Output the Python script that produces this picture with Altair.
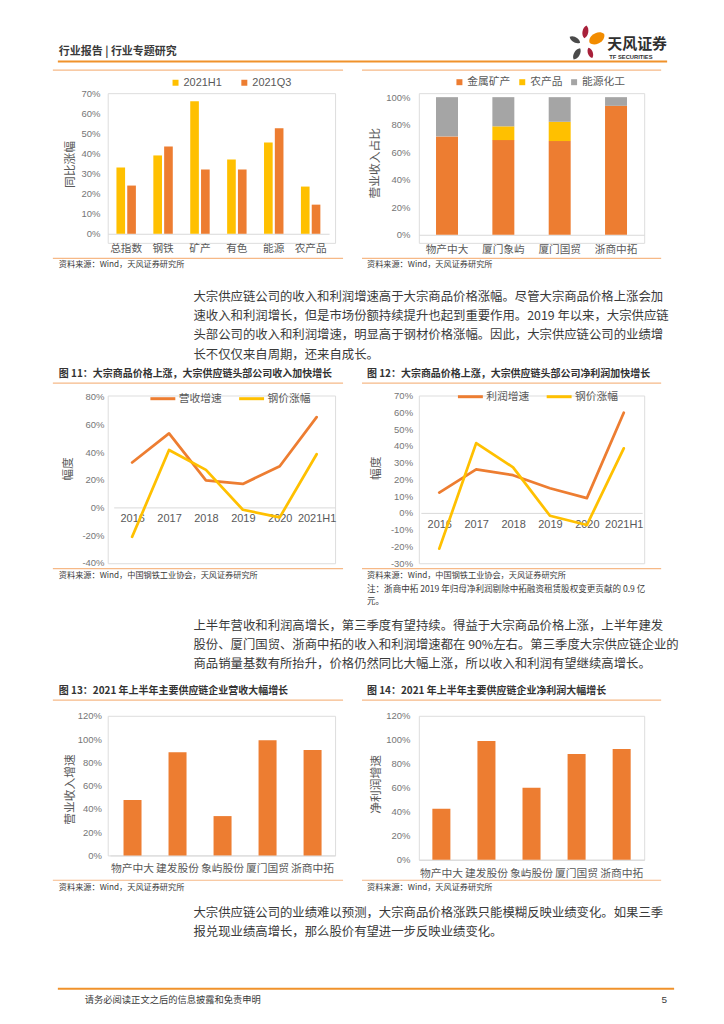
import altair as alt
import pandas as pd

CJK = "Noto Sans CJK SC"
LAT = "Liberation Sans"
ORANGE, YELLOW, GRAY = "#ED7D31", "#FFC000", "#A5A5A5"
TEXT = "#3A3A3A"
AXTXT = "#595959"
TICKTXT = "#767676"
FRAME = "#F6B987"
BRAND = "#F0922B"

# ---------------- data ----------------
idx_categories = ["总指数", "钢铁", "矿产", "有色", "能源", "农产品"]
idx_series = ["2021H1", "2021Q3"]
idx_h1 = [0.33, 0.39, 0.66, 0.37, 0.455, 0.235]
idx_q3 = [0.24, 0.435, 0.32, 0.32, 0.525, 0.145]
idx_ticks = [0.0, 0.1, 0.2, 0.3, 0.4, 0.5, 0.6, 0.7]

mix_companies = ["物产中大", "厦门象屿", "厦门国贸", "浙商中拓"]
mix_series = ["金属矿产", "农产品", "能源化工"]
mix_metal = [0.715, 0.688, 0.681, 0.937]
mix_agri = [0.0, 0.100, 0.140, 0.0]
mix_energy = [0.285, 0.212, 0.179, 0.063]
mix_ticks = [0.0, 0.2, 0.4, 0.6, 0.8, 1.0]

years = ["2016", "2017", "2018", "2019", "2020", "2021H1"]
rev_growth = [0.325, 0.536, 0.195, 0.170, 0.298, 0.654]
profit_growth = [0.121, 0.260, 0.225, 0.147, 0.088, 0.597]
steel_change = [-0.213, 0.416, 0.272, -0.017, -0.072, 0.385]
g11_series = ["营收增速", "钢价涨幅"]
g12_series = ["利润增速", "钢价涨幅"]
g11_ticks = [-0.4, -0.2, 0.0, 0.2, 0.4, 0.6, 0.8]
g12_ticks = [-0.3, -0.2, -0.1, 0.0, 0.1, 0.2, 0.3, 0.4, 0.5, 0.6, 0.7]

h1_companies = ["物产中大", "建发股份", "象屿股份", "厦门国贸", "浙商中拓"]
h1_revenue = [0.477, 0.886, 0.338, 0.989, 0.906]
h1_profit = [0.424, 0.989, 0.601, 0.881, 0.923]
h1_ticks = [0.0, 0.2, 0.4, 0.6, 0.8, 1.0, 1.2]

# ---------------- texts ----------------
header_title = "行业报告 | 行业专题研究"
logo_name = "天风证券"
logo_sub = "TF SECURITIES"
para1 = [
    "大宗供应链公司的收入和利润增速高于大宗商品价格涨幅。尽管大宗商品价格上涨会加",
    "速收入和利润增长，但是市场份额持续提升也起到重要作用。2019 年以来，大宗供应链",
    "头部公司的收入和利润增速，明显高于钢材价格涨幅。因此，大宗供应链公司的业绩增",
    "长不仅仅来自周期，还来自成长。",
]
para2 = [
    "上半年营收和利润高增长，第三季度有望持续。得益于大宗商品价格上涨，上半年建发",
    "股份、厦门国贸、浙商中拓的收入和利润增速都在 90%左右。第三季度大宗供应链企业的",
    "商品销量基数有所抬升，价格仍然同比大幅上涨，所以收入和利润有望继续高增长。",
]
para3 = [
    "大宗供应链公司的业绩难以预测，大宗商品价格涨跌只能模糊反映业绩变化。如果三季",
    "报兑现业绩高增长，那么股价有望进一步反映业绩变化。",
]
cap11 = "图 11：大宗商品价格上涨，大宗供应链头部公司收入加快增长"
cap12 = "图 12：大宗商品价格上涨，大宗供应链头部公司净利润加快增长"
cap13 = "图 13：2021 年上半年主要供应链企业营收大幅增长"
cap14 = "图 14：2021 年上半年主要供应链企业净利润大幅增长"
src_a = "资料来源：Wind，天风证券研究所"
src_b = "资料来源：Wind，中国钢铁工业协会，天风证券研究所"
note12 = ["注：浙商中拓 2019 年归母净利润剔除中拓融资租赁股权变更贡献的 0.9 亿", "元。"]
footer_text = "请务必阅读正文之后的信息披露和免责申明"
page_no = "5"

# ---------------- layout ----------------
OX, OY = 107, 92          # page position of first panel's plot origin
ROW_GAP, COL_GAP = 152.2, 84
W1, W2 = 228, 226
H_ROW1, H_ROW2 = 150.1, 168.2

PCT = "(datum.value < 0 ? '-' : '') + format(abs(datum.value), '.0%')"


def yaxis(values, title, tx, ty, pad):
    return alt.Axis(values=values, labelExpr=PCT, title=title, titleX=tx, titleY=ty,
                    titleAngle=270, titleAlign="center", titleBaseline="middle",
                    titleFontSize=11.8, titleFontWeight="normal", titleColor=AXTXT, titleFont=CJK,
                    labelPadding=pad, labelFontSize=9.5, labelColor=TICKTXT, labelFont=LAT,
                    domain=False, ticks=False, tickSize=0, grid=False, labelOverlap=False)


def xaxis(offset, pad, font, size):
    return alt.Axis(title=None, offset=offset, labelPadding=pad, labelBaseline="middle",
                    labelFont=font, labelFontSize=size, labelColor=AXTXT, labelAngle=0,
                    domainColor="#D9D9D9", domainWidth=1, ticks=False, tickSize=0,
                    grid=False, labelOverlap=False)


ONE = alt.Data(values=[{}])


def txt(x, y, s, size, color=TEXT, weight="normal", align="left", font=CJK):
    return alt.Chart(ONE).mark_text(text=s, fontSize=size, color=color, fontWeight=weight,
                                    align=align, baseline="middle", font=font).encode(
        x=alt.value(x - OX), y=alt.value(y - OY))


def rule(x1, x2, y, color=FRAME, w=1.2):
    return alt.Chart(ONE).mark_rule(color=color, strokeWidth=w).encode(
        x=alt.value(x1 - OX), x2=alt.value(x2 - OX), y=alt.value(y - OY))


PETAL = "M0,-1C0.6,-0.6 0.6,0.6 0,1C-0.6,0.6 -0.6,-0.6 0,-1Z"
PETAL_W = "M0,-1C0.85,-0.8 0.85,0.8 0,1C-0.85,0.8 -0.85,-0.8 0,-1Z"


def petal(x, y, length, angle, color, shape=PETAL):
    return alt.Chart(ONE).mark_point(shape=shape, filled=True, size=length * length, angle=angle % 360,
                                     color=color, opacity=1, strokeWidth=0).encode(
        x=alt.value(x - OX), y=alt.value(y - OY))


# invisible anchor fixing the page's top-left corner
decor = [rule(8, 716, 9.5, "#FFFFFF", 0.01)]
decor += [txt(58, 50.5, header_title, 11, "#3A3A3A", "bold"),
          rule(57, 668, 60.3, BRAND, 2)]
decor += [petal(586, 30.5, 13, 10, "#A8203A"),
          petal(597.5, 37, 17, 60, "#F28C00", PETAL_W),
          petal(575.5, 38.5, 12, -60, "#4A4A4A"),
          petal(577.5, 52.5, 13, 30, "#4A4A4A"),
          petal(591, 51.5, 11, -20, "#A8203A"),
          txt(608, 43, logo_name, 15, "#2F2F2F", "bold"),
          txt(610, 55.5, logo_sub, 5.8, "#2F2F2F", "bold", font=LAT)]
for left, right in [(52, 343), (362, 662)]:
    decor += [rule(left, right, 68.8), rule(left, right, 257.6), rule(left, right, 382.7),
              rule(left, right, 568.8), rule(left, right, 700.7), rule(left, right, 881.3)]
decor += [txt(58, 264.5, src_a, 8.2), txt(367, 264.5, src_a, 8.2),
          txt(58, 374, cap11, 10, "#333333", "bold"), txt(367, 374, cap12, 10, "#333333", "bold"),
          txt(58, 576.5, src_b, 8.2), txt(367, 576.5, src_b, 8.2),
          txt(367, 589.5, note12[0], 8.6), txt(367, 601.5, note12[1], 8.6),
          txt(58, 692, cap13, 10, "#333333", "bold"), txt(367, 692, cap14, 10, "#333333", "bold"),
          txt(58, 889, src_a, 8.2), txt(367, 889, src_a, 8.2)]
for i, line in enumerate(para1):
    decor.append(txt(193, 296 + 19.5 * i, line, 12.4))
for i, line in enumerate(para2):
    decor.append(txt(193, 626 + 19.3 * i, line, 12.4))
for i, line in enumerate(para3):
    decor.append(txt(193, 914 + 19.5 * i, line, 12.4))
decor += [rule(57, 675, 990, BRAND, 2),
          txt(84, 1001, footer_text, 9.3),
          txt(665, 1001, page_no, 10, align="center", font=LAT)]

# ---------------- chart 1: grouped bars ----------------
df1 = pd.DataFrame({
    "cat": idx_categories * 2,
    "series": [s for s in idx_series for _ in idx_categories],
    "value": idx_h1 + idx_q3,
})
bars1 = alt.Chart(df1).mark_bar().encode(
    x=alt.X("cat:N", sort=idx_categories,
            scale=alt.Scale(range=[0, 222], paddingInner=0.473, paddingOuter=0.2365),
            axis=xaxis(-9.1, 14.3, CJK, 10.7)),
    xOffset=alt.XOffset("series:N", sort=idx_series, scale=alt.Scale(paddingInner=0.2, paddingOuter=0)),
    y=alt.Y("value:Q", stack=None, scale=alt.Scale(domain=[-0.0452, 0.7], nice=False, zero=False),
            axis=yaxis(idx_ticks, "同比涨幅", -38.7, 71, 7.7)),
    color=alt.Color("series:N", sort=idx_series,
                    scale=alt.Scale(domain=idx_series, range=[YELLOW, ORANGE]),
                    legend=alt.Legend(orient="none", legendX=62.5, legendY=-16.2, direction="horizontal",
                                      title=None, symbolType="square", symbolSize=36, symbolStrokeWidth=0,
                                      labelFontSize=11, labelColor=AXTXT, labelFont=LAT, labelOffset=2.5,
                                      columnPadding=16, padding=0)),
)
chart1 = alt.layer(bars1, *decor).properties(width=W1, height=H_ROW1)

# ---------------- chart 2: stacked bars ----------------
rows = []
for j, comp in enumerate(mix_companies):
    for k, (s, vals) in enumerate(zip(mix_series, [mix_metal, mix_agri, mix_energy])):
        rows.append({"company": comp, "series": s, "value": vals[j], "ord": k})
df2 = pd.DataFrame(rows)
chart2 = alt.Chart(df2).mark_bar().encode(
    x=alt.X("company:N", sort=mix_companies,
            scale=alt.Scale(range=[0, 226], paddingInner=0.61, paddingOuter=0.305),
            axis=xaxis(-8.1, 14.3, CJK, 10.7)),
    y=alt.Y("value:Q", stack="zero", scale=alt.Scale(domain=[-0.0587, 1.029], nice=False, zero=False),
            axis=yaxis(mix_ticks, "营业收入占比", -44, 69.7, 9)),
    color=alt.Color("series:N", sort=mix_series,
                    scale=alt.Scale(domain=mix_series, range=[ORANGE, YELLOW, GRAY]),
                    legend=alt.Legend(orient="none", legendX=35.3, legendY=-16.8, direction="horizontal",
                                      title=None, symbolType="square", symbolSize=36, symbolStrokeWidth=0,
                                      labelFontSize=10.8, labelColor=AXTXT, labelFont=CJK, labelOffset=2.5,
                                      columnPadding=6, padding=0)),
    order=alt.Order("ord:Q"),
).properties(width=W2, height=H_ROW1)


# ---------------- charts 3/4: lines ----------------
def line_chart(series_names, first_values, rng, domain, ticks, offset, lpad, ypad, legx, legy, tx, ty):
    df = pd.DataFrame({
        "year": years * 2,
        "series": [series_names[0]] * len(years) + [series_names[1]] * len(years),
        "value": first_values + steel_change,
    })
    return alt.Chart(df).mark_line(strokeWidth=2.75, strokeJoin="round", strokeCap="round").encode(
        x=alt.X("year:O", sort=years, scale=alt.Scale(type="point", range=rng, padding=0.5),
                axis=xaxis(offset, lpad, LAT, 11)),
        y=alt.Y("value:Q", scale=alt.Scale(domain=domain, nice=False, zero=False),
                axis=yaxis(ticks, "幅度", tx, ty, ypad)),
        color=alt.Color("series:N", sort=series_names,
                        scale=alt.Scale(domain=series_names, range=[ORANGE, YELLOW]),
                        legend=alt.Legend(orient="none", legendX=legx, legendY=legy, direction="horizontal",
                                          title=None, symbolType="stroke", symbolSize=625, symbolStrokeWidth=3,
                                          labelFontSize=10.8, labelColor=AXTXT, labelFont=CJK, labelOffset=2,
                                          columnPadding=10, padding=0)),
    )


chart3 = line_chart(g11_series, rev_growth, [6, 228], [-0.4043, 0.8101], g11_ticks, -56, 10.8, 3.7,
                    41.3, -10.8, -40.3, 73.2).properties(width=W1, height=H_ROW2)
chart4 = line_chart(g12_series, profit_growth, [2, 224], [-0.3, 0.7], g12_ticks, -50.5, 11.3, 6.3,
                    37.7, -12.8, -43, 72.4).properties(width=W2, height=H_ROW2)


# ---------------- charts 5/6: single bars ----------------
def simple_bars(values, rng, title, tx, ty, ypad, pad, height, width):
    df = pd.DataFrame({"company": h1_companies, "value": values})
    return alt.Chart(df).mark_bar(color=ORANGE).encode(
        x=alt.X("company:N", sort=h1_companies,
                scale=alt.Scale(range=rng, paddingInner=0.6, paddingOuter=0.3),
                axis=xaxis(0, pad, CJK, 10.8)),
        y=alt.Y("value:Q", scale=alt.Scale(domain=[0, 1.2], nice=False),
                axis=yaxis(h1_ticks, title, tx, ty, ypad)),
    ).properties(width=width, height=height)


chart5 = simple_bars(h1_revenue, [2.3, 228], "营业收入增速", -38.7, 73.3, 6.3, 13.6, 140, W1)
chart6 = simple_bars(h1_profit, [0, 226], "净利润增速", -43, 68.3, 9, 13.7, 144.3, W2)

chart = alt.concat(chart1, chart2, chart3, chart4, chart5, chart6, columns=2,
                   spacing={"row": ROW_GAP, "column": COL_GAP}, bounds="flush").resolve_scale(
    color="independent", x="independent", y="independent", xOffset="independent"
).resolve_legend(color="independent").properties(
    padding=0
).configure_view(stroke=None).configure(font=CJK)

chart.save("out.html", embed_options={"renderer": "svg", "actions": False})
